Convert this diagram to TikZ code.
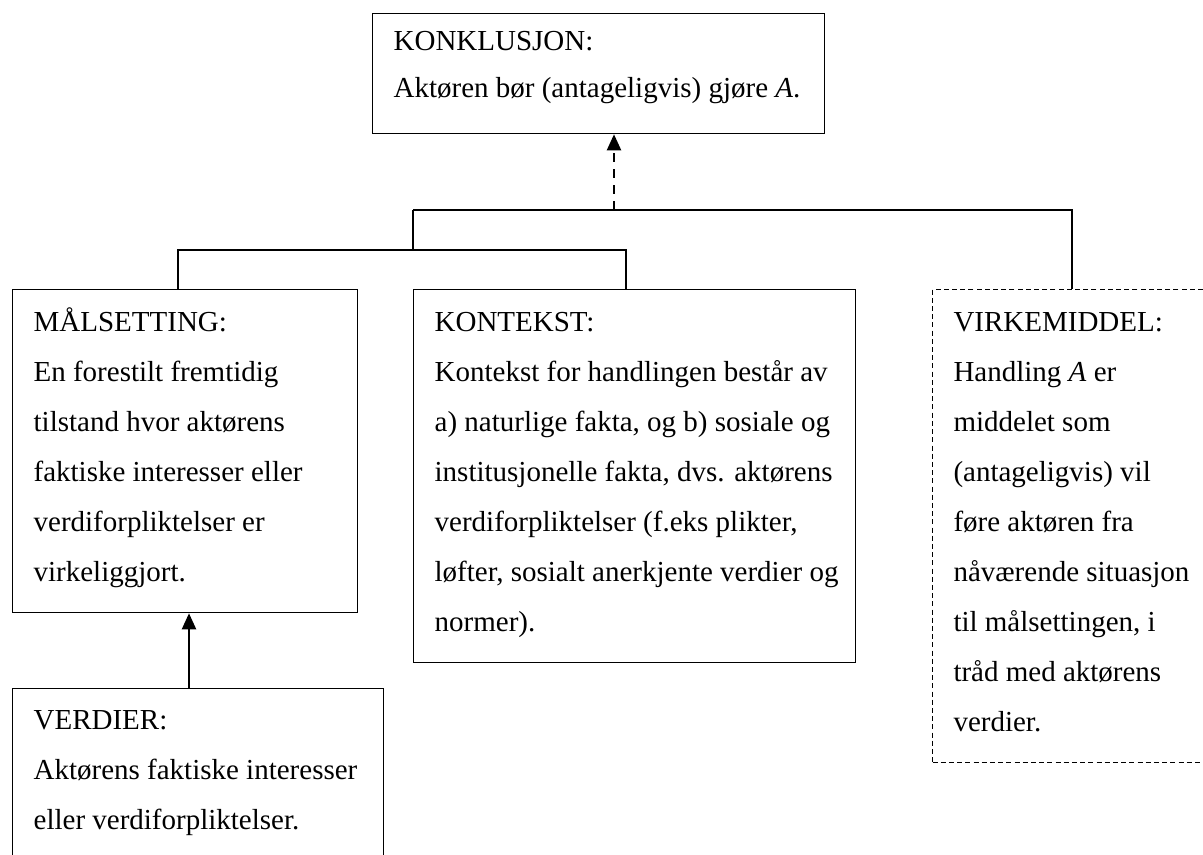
\documentclass[tikz,border=0pt]{standalone}
\usepackage{fontspec}
\setmainfont{Liberation Serif}
\usetikzlibrary{arrows.meta}
\newlength\pxu
\setlength\pxu{0.5pt}
% box body: width, height, first-baseline offset, line pitch, text
\newcommand\boxtext[5]{%
  \parbox[t][#2\pxu][t]{#1\pxu}{\fontsize{14.5pt}{#4\pxu}\selectfont\raggedright
    \leftskip=21\pxu\rule{0pt}{#3\pxu}#5}}
\tikzset{
  textbox/.style={draw, line width=0.65pt, inner sep=0pt, anchor=north west},
  dashbox/.style={textbox, dash pattern=on 2.5pt off 1.6pt, line width=0.5pt},
  bus/.style={line width=0.6pt},
  solidarrow/.style={line width=1.1pt, -{Triangle[length=8pt,width=7pt]}},
  dasharrow/.style={line width=1.1pt, dash pattern=on 4.5pt off 3.5pt, -{Triangle[length=8pt,width=7pt]}}
}
\begin{document}
\begin{tikzpicture}[x=0.5pt,y=-0.5pt]
\useasboundingbox (0,0) rectangle (1203,855);

\node[textbox] (konk) at (372,13) {\boxtext{452}{120}{37}{47}{KONKLUSJON:\\Aktøren bør (antageligvis) gjøre \textit{A}.}};

\node[textbox] (mal) at (12,289) {\boxtext{345}{323}{42}{50}{MÅLSETTING:\\En forestilt fremtidig\\tilstand hvor aktørens\\faktiske interesser eller\\verdiforpliktelser er\\virkeliggjort.}};

\node[textbox] (kont) at (413,289) {\boxtext{442}{373}{42}{50}{KONTEKST:\\Kontekst for handlingen består av\\a) naturlige fakta, og b) sosiale og\\institusjonelle fakta, dvs. aktørens\\verdiforpliktelser (f.eks plikter,\\løfter, sosialt anerkjente verdier og\\normer).}};

\node[dashbox] (virk) at (932,289) {\boxtext{280}{473}{42}{50}{VIRKEMIDDEL:\\Handling \textit{A} er\\middelet som\\(antageligvis) vil\\føre aktøren fra\\nåværende situasjon\\til målsettingen, i\\tråd med aktørens\\verdier.}};

\node[textbox] (verd) at (12,688) {\boxtext{371}{200}{41}{50}{VERDIER:\\Aktørens faktiske interesser\\eller verdiforpliktelser.}};

% junction points of the connector tree
\coordinate (busTopL) at (413,210);
\coordinate (busTopR) at (1072,210);
\coordinate (busTopM) at (614,210);
\coordinate (busLowM) at (413,250);
\coordinate (busLowL) at (178,250);
\coordinate (busLowR) at (626,250);
\coordinate (valx) at (189,0);

\draw[bus] (busTopL) -- (busTopR) -- (busTopR |- virk.north);
\draw[bus] (busTopL) -- (busLowM);
\draw[bus] (busLowL |- mal.north) -- (busLowL) -- (busLowR) -- (busLowR |- kont.north);
\draw[dasharrow] (busTopM) -- (busTopM |- konk.south);
\draw[solidarrow] (valx |- verd.north) -- (valx |- mal.south);
\end{tikzpicture}
\end{document}
